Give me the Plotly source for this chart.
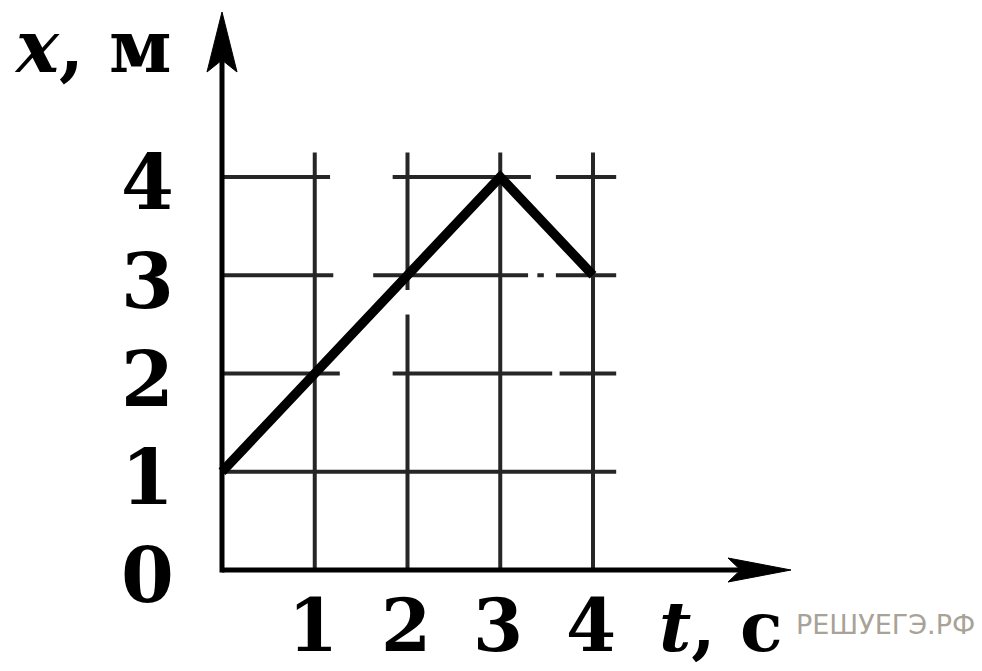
import plotly.graph_objects as go

# Motion graph: coordinate x (m) versus time t (s)
t_vals = [0, 1, 2, 3, 4]
x_vals = [1, 2, 3, 4, 3]

t_ticks = [1, 2, 3, 4]
t_tick_text = ["1", "2", "3", "4"]
x_ticks = [0, 1, 2, 3, 4]
x_tick_text = ["0", "1", "2", "3", "4"]

x_title = "<i>x</i>, м"
t_title = "<i>t</i>, с"
watermark = "РЕШУЕГЭ.РФ"

# printed grid: horizontal lines at x = 1..4, vertical at t = 1..4, each up to 4.25
grid_end = 4.25
h_gaps = {4: [(1.165, 1.84), (3.33, 3.6)],
          3: [(1.2, 1.63), (3.30, 3.40), (3.47, 3.6)],
          2: [(1.27, 1.84), (3.56, 3.64)],
          1: []}
v_gaps = {1: [], 2: [(2.6, 2.85)], 3: [], 4: []}

W, H = 982, 671
X_PX0, X_UNIT = 222, 92.75   # pixel of t=0, pixels per second
Y_PX0, Y_UNIT = 570, 98.25   # pixel of x=0, pixels per metre

FONT = "DejaVu Serif"
GRID = "#262626"


def pieces(start, end, gaps):
    out, cur = [], start
    for a, b in gaps:
        out.append((cur, a))
        cur = b
    out.append((cur, end))
    return out


shapes = []
for yv, gaps in h_gaps.items():
    for a, b in pieces(0, grid_end, gaps):
        shapes.append(dict(type="line", xref="x", yref="y", x0=a, x1=b, y0=yv, y1=yv,
                           line=dict(color=GRID, width=4), layer="below"))
for tv, gaps in v_gaps.items():
    for a, b in pieces(0, grid_end, gaps):
        shapes.append(dict(type="line", xref="x", yref="y", x0=tv, x1=tv, y0=a, y1=b,
                           line=dict(color=GRID, width=4), layer="below"))

# axes with arrows
t_axis_end = (791 - X_PX0) / X_UNIT
x_axis_end = (Y_PX0 - 12) / Y_UNIT
shapes.append(dict(type="line", xref="x", yref="y", x0=0, x1=t_axis_end - 0.3, y0=0, y1=0,
                   line=dict(color="black", width=5)))
shapes.append(dict(type="line", xref="x", yref="y", x0=0, x1=0, y0=-0.025, y1=x_axis_end - 0.3,
                   line=dict(color="black", width=5)))

fig = go.Figure()

# arrow heads (notched triangles)
ah_len_t, ah_half_t = 63 / X_UNIT, 12 / Y_UNIT
fig.add_trace(go.Scatter(
    x=[t_axis_end, t_axis_end - ah_len_t, t_axis_end - ah_len_t * 0.8, t_axis_end - ah_len_t, t_axis_end],
    y=[0, ah_half_t, 0, -ah_half_t, 0],
    mode="lines", fill="toself", fillcolor="black", line=dict(color="black", width=1),
    hoverinfo="skip", showlegend=False))
ah_len_x, ah_half_x = 60 / Y_UNIT, 15 / X_UNIT
fig.add_trace(go.Scatter(
    x=[0, ah_half_x, 0, -ah_half_x, 0],
    y=[x_axis_end, x_axis_end - ah_len_x, x_axis_end - ah_len_x * 0.8, x_axis_end - ah_len_x, x_axis_end],
    mode="lines", fill="toself", fillcolor="black", line=dict(color="black", width=1),
    hoverinfo="skip", showlegend=False))

# the graph itself
fig.add_trace(go.Scatter(x=t_vals, y=x_vals, mode="lines",
                         line=dict(color="black", width=9.5),
                         hoverinfo="skip", showlegend=False))

annotations = []
for v, s in zip(x_ticks, x_tick_text):
    annotations.append(dict(x=-0.8, y=v - 0.06, xref="x", yref="y", text=s, showarrow=False,
                            xanchor="center", yanchor="middle",
                            font=dict(family=FONT, size=76, color="black", weight="bold")))
for v, s in zip(t_ticks, t_tick_text):
    annotations.append(dict(x=v - 0.02, y=-0.565, xref="x", yref="y", text=s, showarrow=False,
                            xanchor="center", yanchor="middle",
                            font=dict(family=FONT, size=72, color="black", weight="bold")))

annotations.append(dict(x=12 / W, y=1 - 47 / H, xref="paper", yref="paper", text=x_title,
                        showarrow=False, xanchor="left", yanchor="middle",
                        font=dict(family=FONT, size=72, color="black", weight="bold")))
annotations.append(dict(x=977 / W, y=1 - 624 / H, xref="paper", yref="paper", text=watermark,
                        showarrow=False, xanchor="right", yanchor="middle",
                        font=dict(family="DejaVu Sans", size=27, color="#a8a297")))
annotations.append(dict(x=657 / W, y=1 - 626 / H, xref="paper", yref="paper", text=t_title,
                        showarrow=False, xanchor="left", yanchor="middle",
                        font=dict(family=FONT, size=70, color="black", weight="bold")))

fig.update_layout(
    width=W, height=H, autosize=False,
    margin=dict(l=0, r=0, t=0, b=0),
    paper_bgcolor="white", plot_bgcolor="white",
    shapes=shapes, annotations=annotations,
    xaxis=dict(range=[-X_PX0 / X_UNIT, (W - X_PX0) / X_UNIT], visible=False, fixedrange=True),
    yaxis=dict(range=[-(H - Y_PX0) / Y_UNIT, Y_PX0 / Y_UNIT], visible=False, fixedrange=True),
)

fig.write_html("out.html", config=dict(displayModeBar=False))
